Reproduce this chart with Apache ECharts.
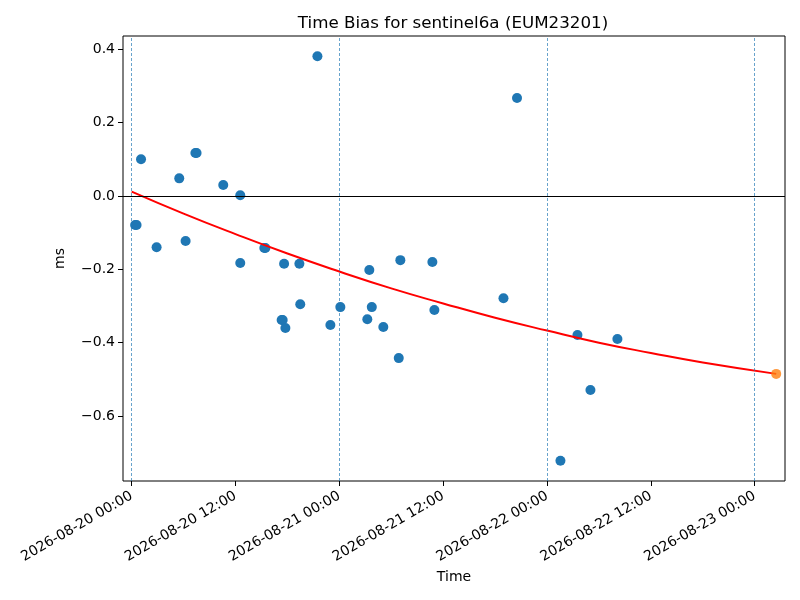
<!DOCTYPE html>
<html>
<head>
<meta charset="utf-8">
<script src="https://cdn.jsdelivr.net/npm/echarts@6/dist/echarts.min.js"></script>
<style>
  html, body { margin: 0; padding: 0; background: #fff; }
  #chart { width: 800px; height: 600px; }
</style>
</head>
<body>
<div id="chart"></div>
<script>
// 观测时间 / 时间偏差 (ms)
const obsTimes = [
  '2026-08-20 00:24', '2026-08-20 00:34', '2026-08-20 01:05', '2026-08-20 02:53',
  '2026-08-20 05:30', '2026-08-20 06:14', '2026-08-20 07:22', '2026-08-20 07:30',
  '2026-08-20 10:35', '2026-08-20 12:33', '2026-08-20 12:33', '2026-08-20 15:20',
  '2026-08-20 15:27', '2026-08-20 17:20', '2026-08-20 17:27', '2026-08-20 17:37',
  '2026-08-20 17:46', '2026-08-20 19:23', '2026-08-20 19:29', '2026-08-20 21:28',
  '2026-08-20 22:58', '2026-08-21 00:07', '2026-08-21 03:14', '2026-08-21 03:28',
  '2026-08-21 03:45', '2026-08-21 05:05', '2026-08-21 06:52', '2026-08-21 07:03',
  '2026-08-21 10:45', '2026-08-21 10:59', '2026-08-21 18:58', '2026-08-21 20:32',
  '2026-08-22 01:33', '2026-08-22 03:31', '2026-08-22 05:01', '2026-08-22 08:08'
];
const obsBias = [
  -0.079, -0.079, 0.100, -0.140,
  0.048, -0.123, 0.117, 0.117,
  0.030, 0.002, -0.183, -0.142,
  -0.142, -0.338, -0.338, -0.185,
  -0.360, -0.185, -0.295, 0.381,
  -0.352, -0.303, -0.336, -0.202,
  -0.303, -0.357, -0.442, -0.175,
  -0.180, -0.311, -0.279, 0.267,
  -0.722, -0.379, -0.529, -0.390
];

// 拟合曲线
const fitTimes = [
  '2026-08-20 00:00', '2026-08-20 06:00', '2026-08-20 12:00', '2026-08-20 18:00',
  '2026-08-21 00:00', '2026-08-21 06:00', '2026-08-21 12:00', '2026-08-21 18:00',
  '2026-08-22 00:00', '2026-08-22 06:00', '2026-08-22 12:00', '2026-08-22 18:00',
  '2026-08-23 02:29'
];
const fitBias = [
  0.012, -0.048, -0.104, -0.157,
  -0.206, -0.252, -0.293, -0.332,
  -0.367, -0.400, -0.428, -0.454,
  -0.485
];

// 预测点
const predTimes = ['2026-08-23 02:29'];
const predBias = [-0.485];

// 刻度
const tickLabels = [
  '2026-08-20 00:00', '2026-08-20 12:00', '2026-08-21 00:00', '2026-08-21 12:00',
  '2026-08-22 00:00', '2026-08-22 12:00', '2026-08-23 00:00'
];
const dayLines = ['2026-08-20 00:00', '2026-08-21 00:00', '2026-08-22 00:00', '2026-08-23 00:00'];
const yTicks = [-0.6, -0.4, -0.2, 0.0, 0.2, 0.4];

const START = Date.UTC(2026, 7, 20, 0, 0);
function toHours(s){
  let [d, t] = s.split(' ');
  let [y, m, dd] = d.split('-').map(Number);
  let [hh, mm] = t.split(':').map(Number);
  return (Date.UTC(y, m - 1, dd, hh, mm) - START) / 3600000;
}
const pairs = (ts, vs) => ts.map((t, i) => [toHours(t), vs[i]]);
const tickHours = tickLabels.map(toHours);

const FONT = 'DejaVu Sans';
const chart = echarts.init(document.getElementById('chart'));
chart.setOption({
  animation: false,
  textStyle: { fontFamily: FONT },
  title: {
    text: 'Time Bias for sentinel6a (EUM23201)',
    left: 448, top: 10, textAlign: 'center',
    textStyle: { fontFamily: FONT, fontSize: 16.7, fontWeight: 'normal', color: '#000' }
  },
  grid: {
    left: 123, right: 15, top: 36, bottom: 119,
    show: true, borderColor: '#000', borderWidth: 1, backgroundColor: 'transparent'
  },
  xAxis: {
    type: 'value',
    min: -1.0, max: 75.5,
    name: 'Time', nameLocation: 'middle', nameGap: 88,
    nameTextStyle: { fontFamily: FONT, fontSize: 14, color: '#000' },
    axisLine: { show: false, onZero: false },
    splitLine: { show: false },
    axisTick: { show: true, length: 5, customValues: tickHours, lineStyle: { color: '#000' } },
    axisLabel: {
      customValues: tickHours, rotate: 30, margin: 14,
      fontFamily: FONT, fontSize: 14, color: '#000',
      formatter: v => tickLabels[tickHours.indexOf(Math.round(v))] || ''
    }
  },
  yAxis: {
    type: 'value',
    min: -0.777, max: 0.436,
    name: 'ms', nameLocation: 'middle', nameGap: 56,
    nameTextStyle: { fontFamily: FONT, fontSize: 14, color: '#000' },
    axisLine: { show: false, onZero: false },
    splitLine: { show: false },
    axisTick: { show: true, length: 5, customValues: yTicks, lineStyle: { color: '#000' } },
    axisLabel: {
      customValues: yTicks, margin: 8,
      fontFamily: FONT, fontSize: 14, color: '#000',
      formatter: v => v.toFixed(1).replace('-', '\u2212')
    }
  },
  series: [
    {
      // 参考线
      type: 'line', data: [], z: 1,
      markLine: {
        silent: true, symbol: 'none', label: { show: false },
        data: dayLines.map(d => ({
          xAxis: toHours(d),
          lineStyle: { color: '#1f77b4', type: [3, 2], width: 0.8, opacity: 0.85 }
        })).concat([{ yAxis: 0, lineStyle: { color: '#000', type: 'solid', width: 1, opacity: 1 } }])
      }
    },
    {
      name: 'bias', type: 'scatter', z: 3,
      symbolSize: 10,
      itemStyle: { color: '#1f77b4', opacity: 1 },
      data: pairs(obsTimes, obsBias)
    },
    {
      name: 'fit', type: 'line', z: 4,
      smooth: true, showSymbol: false,
      lineStyle: { color: '#ff0000', width: 2 },
      data: pairs(fitTimes, fitBias)
    },
    {
      name: 'prediction', type: 'scatter', z: 5,
      symbolSize: 10,
      itemStyle: { color: '#ff7f0e' },
      data: pairs(predTimes, predBias)
    }
  ]
});
</script>
</body>
</html>
